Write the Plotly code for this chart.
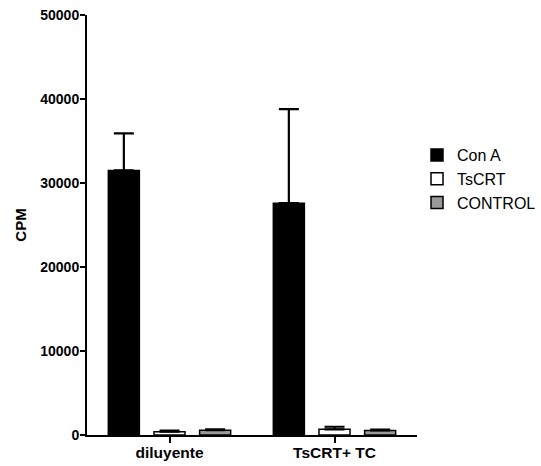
import plotly.graph_objects as go

categories = ["diluyente", "TsCRT+ TC"]
series_names = ["Con A", "TsCRT", "CONTROL"]
con_a = [31500, 27600]
con_a_err = [4400, 11200]
tscrt = [400, 680]
tscrt_err = [120, 300]
control = [580, 550]
control_err = [90, 80]
y_ticks = [0, 10000, 20000, 30000, 40000, 50000]

fills = ["#000000", "#ffffff", "#999999"]
vals = [con_a, tscrt, control]
errs = [con_a_err, tscrt_err, control_err]

fig = go.Figure()
for name, v, e, c in zip(series_names, vals, errs, fills):
    fig.add_trace(go.Bar(
        x=categories, y=v, name=name, legendgroup=name,
        marker=dict(color=c, line=dict(color="#000000", width=1.5)),
        error_y=dict(type="data", array=e, arrayminus=[0] * len(e), symmetric=False,
                     color="#000000", thickness=2.2, width=10),
    ))

fig.update_layout(
    width=541, height=466,
    margin=dict(l=87, r=100, t=15, b=31),
    paper_bgcolor="white", plot_bgcolor="white",
    barmode="group", bargap=0.17, bargroupgap=0.32,
    font=dict(family="Liberation Sans, Arial, sans-serif", color="#000000"),
    legend=dict(xref="container", x=1.0, xanchor="right", y=0.707, yanchor="top",
                font=dict(size=16), tracegroupgap=0, bgcolor="rgba(0,0,0,0)"),
    showlegend=True,
)
fig.update_xaxes(
    range=[-0.5, 1.5], showline=True, linecolor="#000000", linewidth=2,
    ticks="outside", ticklen=6, tickwidth=2, tickcolor="#000000",
    tickfont=dict(size=15.5, weight="bold"), showgrid=False, zeroline=False,
    automargin=False, ticklabelstandoff=-4,
)
fig.update_yaxes(
    range=[0, 50000], tickvals=y_ticks, ticktext=[str(t) for t in y_ticks],
    showline=True, linecolor="#000000", linewidth=2,
    ticks="outside", ticklen=5, tickwidth=2, tickcolor="#000000",
    tickfont=dict(size=14, weight="bold"), showgrid=False, zeroline=False,
    title=dict(text="CPM", font=dict(size=15, weight="bold"), standoff=10),
    automargin=False, ticklabelstandoff=-2,
)

fig.write_html("out.html")
